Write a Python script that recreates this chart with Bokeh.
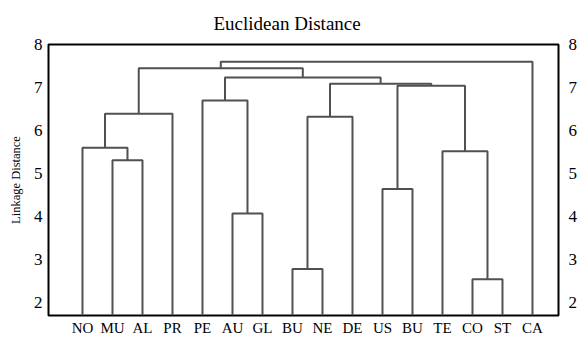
import numpy as np
from bokeh.plotting import figure
from bokeh.models import FixedTicker, LinearAxis, Range1d
from bokeh.embed import file_html
from bokeh.resources import INLINE

# ---- data ----
leaf_labels = ["NO", "MU", "AL", "PR", "PE", "AU", "GL", "BU",
               "NE", "DE", "US", "BU", "TE", "CO", "ST", "CA"]
y_ticks = [2, 3, 4, 5, 6, 7, 8]

# merges: children ids (leaves 0..15, clusters 16+ in merge order), linkage distance
merge_left = [1, 0, 17, 5, 4, 7, 21, 10, 13, 12, 23, 22, 20, 18, 29]
merge_right = [2, 16, 3, 6, 19, 8, 9, 11, 14, 24, 25, 26, 27, 28, 15]
merge_height = [5.31, 5.60, 6.39, 4.07, 6.70, 2.78, 6.32, 4.64, 2.54,
                5.52, 7.04, 7.09, 7.23, 7.45, 7.60]

# ---- layout / style ----
Y_MIN, Y_MAX = 1.70, 8.0
X_MIN, X_MAX = -1.133, 15.867
FONT = "Liberation Serif"

n = len(leaf_labels)
pos = {i: float(i) for i in range(n)}
hgt = {i: Y_MIN for i in range(n)}
xs, ys = [], []
for k, (a, b, h) in enumerate(zip(merge_left, merge_right, merge_height)):
    xa, xb = pos[a], pos[b]
    xs.append([xa, xa, xb, xb])
    ys.append([hgt[a], h, h, hgt[b]])
    pos[n + k] = (xa + xb) / 2.0
    hgt[n + k] = h

p = figure(width=581, height=338, output_backend="svg", toolbar_location=None,
           x_range=Range1d(X_MIN, X_MAX), y_range=Range1d(Y_MIN, Y_MAX),
           min_border_left=48, min_border_right=23, min_border_top=44,
           min_border_bottom=22, title="Euclidean Distance")

p.multi_line(xs, ys, line_color="#505050", line_width=2)

p.title.align = "left"
p.title.offset = 165
p.title.vertical_align = "middle"
p.title.text_font = FONT
p.title.text_font_style = "normal"
p.title.text_font_size = "19px"
p.title.text_color = "black"
p.title.standoff = 19

p.xgrid.visible = False
p.ygrid.visible = False
p.outline_line_color = "black"
p.outline_line_width = 2
p.background_fill_color = "white"
p.border_fill_color = "white"


def style_axis(ax, size, standoff):
    ax.axis_line_color = None
    ax.major_tick_line_color = None
    ax.minor_tick_line_color = None
    ax.major_tick_out = 0
    ax.major_tick_in = 0
    ax.minor_tick_out = 0
    ax.minor_tick_in = 0
    ax.major_label_text_font = FONT
    ax.major_label_text_font_size = size
    ax.major_label_text_color = "black"
    ax.major_label_standoff = standoff


# left axis
ya = p.yaxis[0]
ya.ticker = FixedTicker(ticks=y_ticks)
style_axis(ya, "17px", 6)
ya.axis_label = "Linkage Distance"
ya.axis_label_text_font = FONT
ya.axis_label_text_font_style = "normal"
ya.axis_label_text_font_size = "12.5px"
ya.axis_label_text_color = "black"
ya.axis_label_standoff = 8

# right axis
ra = LinearAxis(ticker=FixedTicker(ticks=y_ticks))
style_axis(ra, "17px", 10)
p.add_layout(ra, "right")

# bottom axis
xa_ = p.xaxis[0]
xa_.ticker = FixedTicker(ticks=list(range(n)))
xa_.major_label_overrides = {i: lab for i, lab in enumerate(leaf_labels)}
style_axis(xa_, "15px", 4)

open("out.html", "w").write(file_html(p, INLINE))
